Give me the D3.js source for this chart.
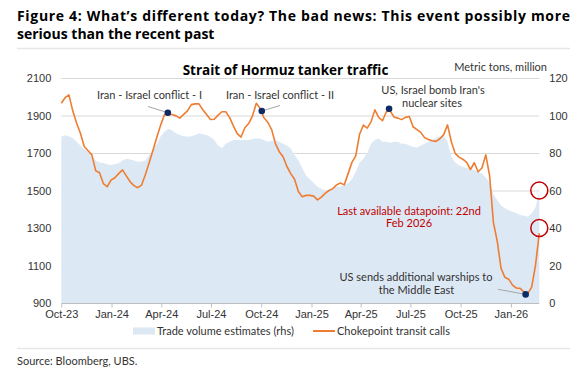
<!DOCTYPE html>
<html><head><meta charset="utf-8">
<script src="https://cdn.jsdelivr.net/npm/d3@7"></script>
<style>
body{margin:0;background:#fff;}
svg{display:block;font-family:Lato,"Open Sans",sans-serif;}
</style></head>
<body>
<svg id="c" width="579" height="368"></svg>
<script>
// ---- data ----
const startDate = "2023-10-01"; // weekly observations through 2026-02-22
const transitCalls = [1965,1995,2010,1925,1860,1805,1735,1712,1690,1605,1595,1537,1520,1555,1568,1590,1610,1578,1547,1526,
1515,1529,1585,1650,1716,1785,1850,1905,1905,1905,1898,1886,1906,1925,1958,1962,1962,1931,1905,1879,
1880,1902,1920,1920,1890,1845,1803,1785,1835,1857,1898,1965,1938,1888,1864,1825,1750,1707,1680,1628,
1590,1560,1495,1467,1474,1474,1470,1450,1465,1485,1500,1510,1530,1540,1530,1590,1650,1685,1800,1849,
1833,1866,1930,1890,1872,1920,1925,1892,1886,1878,1890,1895,1840,1825,1810,1782,1772,1765,1762,1776,
1798,1850,1760,1698,1678,1667,1650,1612,1648,1600,1620,1690,1580,1330,1230,1085,1037,1027,995,980,
978,958,951,985,1100,1272];
const tradeVolume = [88.7,89.5,89,88,86,84,82,80.5,78,76,75,74.7,74,73.6,74,74.5,76,77,76.5,76,
75.4,75.5,76,79,82,85,89,91.4,93,92,90.5,89.6,89,88.7,89,89.6,90.5,90,89.6,88.5,
87,84,82.5,85,86,87,87,87,87,87,87.5,87.8,87.8,87,86,86.5,87,86,85,84,
82.5,79,76,72,68,66,64,62,61,60,60,61,62,62,63,64,66,70,75,77,
80,85,87,87.8,86,86,85.5,86,86,85,85,84,83.4,83,84,85,86,87,88,89,
89,86,78,75,73.5,72.7,72,71.5,71,70,69,67,64,58,55,52,50.5,49.5,48.7,48,
47,46.5,46,47.8,51,59];
const leftTicks = [900,1100,1300,1500,1700,1900,2100];
const rightTicks = [0,20,40,60,80,100,120];
const xTickDates = ["2023-10-01","2024-01-01","2024-04-01","2024-07-01","2024-10-01","2025-01-01","2025-04-01","2025-07-01","2025-10-01","2026-01-01"];
const xTickLabels = ["Oct-23","Jan-24","Apr-24","Jul-24","Oct-24","Jan-25","Apr-25","Jul-25","Oct-25","Jan-26"];
const eventDates = ["2024-04-13","2024-10-02","2025-05-23","2026-01-28"];
const eventValues = [1915,1924,1936,946];
const circledRightValues = [60,40];

// ---- setup ----
const parse = d3.timeParse("%Y-%m-%d");
const t0 = parse(startDate);
const dates = transitCalls.map((_, i) => d3.timeDay.offset(t0, i * 7));
const svg = d3.select("#c");
const L = 61.3, R = 539.3, T = 78, B = 303;
const x = d3.scaleTime().domain([t0, dates[dates.length - 1]]).range([L, R]);
const yL = d3.scaleLinear().domain([900, 2100]).range([B, T]);
const yR = d3.scaleLinear().domain([0, 120]).range([B, T]);

const ORANGE = "#ee7d31", AREA = "#dde8f5", NAVY = "#0c2a63", RED = "#c00000", TXT = "#333";
const BOLD = "'Open Sans',sans-serif";

svg.append("rect").attr("width", 579).attr("height", 368).attr("fill", "#fff");

// titles
const title = svg.append("g").attr("font-weight", 700).attr("font-size", 14).attr("fill", "#000").attr("font-family", BOLD);
title.append("text").attr("x", 17).attr("y", 21).attr("textLength", 553).attr("lengthAdjust", "spacing")
  .text("Figure 4: What\u2019s different today? The bad news: This event possibly more");
title.append("text").attr("x", 17).attr("y", 38.5).text("serious than the recent past");
svg.append("line").attr("x1", 17).attr("x2", 570).attr("y1", 48.5).attr("y2", 48.5).attr("stroke", "#e6e6e6").attr("stroke-width", 1.5);
svg.append("line").attr("x1", 17).attr("x2", 570).attr("y1", 348.5).attr("y2", 348.5).attr("stroke", "#e6e6e6").attr("stroke-width", 1.5);
svg.append("text").attr("x", 17).attr("y", 365).attr("font-size", 11).attr("fill", TXT).text("Source: Bloomberg, UBS.");

svg.append("text").attr("x", 285.5).attr("y", 75).attr("text-anchor", "middle").attr("font-weight", 700)
  .attr("font-family", BOLD).attr("font-size", 13.5).attr("fill", "#000").text("Strait of Hormuz tanker traffic");
svg.append("text").attr("x", 547).attr("y", 71).attr("text-anchor", "end").attr("font-size", 11)
  .attr("fill", TXT).text("Metric tons, million");

// gridlines
svg.append("g").selectAll("line").data(leftTicks.filter(d => d > 900)).join("line")
  .attr("x1", L).attr("x2", R).attr("y1", d => yL(d) + 0.5).attr("y2", d => yL(d) + 0.5)
  .attr("stroke", "#d9d9d9").attr("stroke-width", 1);

// area (rhs)
const area = d3.area().x((d, i) => x(dates[i])).y0(yR(0)).y1(d => yR(d)).curve(d3.curveLinear);
svg.append("path").datum(tradeVolume).attr("d", area).attr("fill", AREA);

// axes
const xAxis = d3.axisBottom(x).tickValues(xTickDates.map(parse)).tickFormat((d, i) => xTickLabels[i]).tickSize(4).tickPadding(3);
const gx = svg.append("g").attr("transform", `translate(0,${B + 0.5})`).call(xAxis);
gx.select(".domain").attr("stroke", "#bfbfbf").attr("d", `M${L},0H${R}`);
gx.selectAll(".tick line").attr("stroke", "#bfbfbf");
gx.selectAll("text").attr("font-size", 11).attr("fill", TXT).attr("font-family", null);

const gl = svg.append("g").attr("transform", `translate(${L},0)`)
  .call(d3.axisLeft(yL).tickValues(leftTicks).tickFormat(d3.format("d")).tickSize(0).tickPadding(10));
gl.select(".domain").remove();
gl.selectAll("text").attr("font-size", 11).attr("fill", TXT).attr("font-family", null);

const gr = svg.append("g").attr("transform", `translate(${R},0)`)
  .call(d3.axisRight(yR).tickValues(rightTicks).tickFormat(d3.format("d")).tickSize(0).tickPadding(10));
gr.select(".domain").remove();
gr.selectAll("text").attr("font-size", 11).attr("fill", TXT).attr("font-family", null);

// line (lhs)
const line = d3.line().x((d, i) => x(dates[i])).y(d => yL(d));
svg.append("path").datum(transitCalls).attr("d", line).attr("fill", "none")
  .attr("stroke", ORANGE).attr("stroke-width", 1.6).attr("stroke-linejoin", "round");

// annotations
const ev = eventDates.map((d, i) => ({x: x(parse(d)), y: yL(eventValues[i])}));
const lead = svg.append("g").attr("stroke", "#a6a6a6").attr("stroke-width", 1);
lead.append("line").attr("x1", 148).attr("y1", 106.5).attr("x2", ev[0].x).attr("y2", ev[0].y);
lead.append("line").attr("x1", ev[1].x).attr("y1", ev[1].y).attr("x2", 280).attr("y2", 105.5);
lead.append("line").attr("x1", 498).attr("y1", 289.3).attr("x2", ev[3].x).attr("y2", ev[3].y);
svg.append("g").selectAll("circle").data(ev).join("circle")
  .attr("cx", d => d.x).attr("cy", d => d.y).attr("r", 3.3).attr("fill", NAVY);

const ann = svg.append("g").attr("font-size", 11).attr("fill", TXT).attr("text-anchor", "middle");
ann.append("text").attr("x", 149.5).attr("y", 99).text("Iran - Israel conflict - I");
ann.append("text").attr("x", 280).attr("y", 99).text("Iran - Israel conflict - II");
ann.append("text").attr("x", 433).attr("y", 94).text("US, Israel bomb Iran's");
ann.append("text").attr("x", 432).attr("y", 106.5).text("nuclear sites");
ann.append("text").attr("x", 416).attr("y", 281).text("US sends additional warships to");
ann.append("text").attr("x", 416.5).attr("y", 293.5).text("the Middle East");
const red = svg.append("g").attr("font-size", 11).attr("fill", RED).attr("text-anchor", "middle");
red.append("text").attr("x", 409).attr("y", 214.5).text("Last available datapoint: 22nd");
red.append("text").attr("x", 409).attr("y", 227).text("Feb 2026");

svg.append("g").selectAll("circle").data(circledRightValues).join("circle")
  .attr("cx", R).attr("cy", d => yR(d)).attr("r", 8.5).attr("fill", "none")
  .attr("stroke", RED).attr("stroke-width", 1.5);

// legend
const lg = svg.append("g").attr("font-size", 11).attr("fill", TXT);
lg.append("rect").attr("x", 133).attr("y", 327.5).attr("width", 22).attr("height", 7).attr("fill", AREA);
lg.append("text").attr("x", 157).attr("y", 335).text("Trade volume estimates (rhs)");
lg.append("line").attr("x1", 313).attr("x2", 335).attr("y1", 331).attr("y2", 331).attr("stroke", ORANGE).attr("stroke-width", 2);
lg.append("text").attr("x", 337).attr("y", 335).text("Chokepoint transit calls");
</script>
</body></html>
